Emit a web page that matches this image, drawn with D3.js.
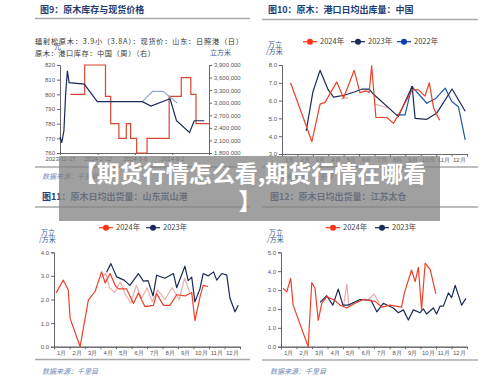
<!DOCTYPE html>
<html>
<head>
<meta charset="utf-8">
<script src="https://cdn.jsdelivr.net/npm/d3@7"></script>
<style>
body { margin: 0; background: #fff; }
svg { display: block; font-family: "Noto Sans CJK SC", "Noto Sans", sans-serif; }
</style>
</head>
<body>
<svg width="500" height="376"></svg>
<script>
const months = ["1月","2月","3月","4月","5月","6月","7月","8月","9月","10月","11月","12月"];

// 图9: price (left axis) and port stock (right axis)
const priceTicks = [760, 770, 780, 790, 800, 810, 820];
const stockTicks = [1800000, 2100000, 2400000, 2700000, 3000000, 3300000, 3600000, 3900000];
const dateTicks = ["2023-11-17", "2024-2-12", "2024-5-8", "2024-8-2"];
const price = [["2023-11-17",771],["2023-11-21",767],["2023-11-26",775],["2023-11-30",800],["2023-12-4",816],
  ["2023-12-8",808],["2024-1-12",807],["2024-2-11",795],["2024-5-25",795],["2024-6-14",792],["2024-7-28",797],
  ["2024-8-12",782],["2024-9-11",774],["2024-9-22",782],["2024-10-15",782]];
const priceGhost = [["2024-5-25",795],["2024-6-18",802],["2024-7-12",802],["2024-8-14",794]];
const stock = [["2023-12-11",3200000],["2024-1-13",3900000],["2024-3-1",3150000],["2024-3-13",2500000],
  ["2024-4-1",2150000],["2024-4-18",2500000],["2024-4-28",2150000],["2024-5-12",1800000],["2024-6-5",2150000],
  ["2024-7-26",3150000],["2024-8-23",3600000],["2024-9-14",3200000],["2024-9-26",2500000],["2024-10-26",2500000]];

// 图10: daily outbound, China ports (week of year, value)
const out24 = [[2.4,7.0],[8.4,3.7],[10.7,5.8],[12.1,5.9],[15.4,7.05],[17.3,6.15],[20.3,7.7],[21.9,6.45],[23.6,6.55],
  [24.5,6.45],[25.2,7.95],[26.4,5.05],[29.5,5.05],[31.3,4.72],[32.6,5.15],[36.6,6.6],[38.4,6.6],[40.2,6.25],
  [41.4,7.0],[42.6,5.6],[44.3,4.9]];
const out23 = [[6.8,4.3],[8.7,6.5],[10.7,7.7],[13.0,6.6],[14.5,6.2],[17.5,6.3],[20.5,6.5],[22.5,6.65],[24.5,6.65],
  [25.5,6.4],[32.7,5.1],[36.6,6.8],[37.4,5.0],[40.7,4.95],[43.5,5.3],[47.8,6.65],[51.5,5.4]];
const out22 = [[32.3,5.2],[34.6,5.2],[36.5,6.8],[40.7,5.85],[43.1,6.1],[45.9,6.7],[47.7,5.95],[49.6,5.65],[51.5,3.8]];
const out24Ghost = [[[26.0,5.8],[29.7,5.6]], [[16.6,6.1],[18.6,6.15]]];

// 图11: Lanshan port
const lan24 = [[0.6,2.28],[2.6,2.82],[4.0,2.4],[4.5,1.2],[7.3,0],[9.6,1.97],[11.5,2.35],[13.3,3.17],[14.3,2.7],
  [15.7,3.1],[17.1,2.6],[18.0,2.45],[20.3,2.45],[22.2,1.83],[23.6,2.27],[25.4,1.7],[27.8,1.75],[28.7,2.25],
  [30.6,1.75],[32.4,1.75],[34.3,2.2],[36.6,2.15],[38.5,2.3],[39.4,1.1],[40.8,2.1],[41.7,2.6],[43.1,2.55]];
const lan23 = [[14.7,3.15],[15.9,3.52],[17.5,2.96],[19.6,2.82],[21.2,2.6],[23.6,3.1],[25.0,2.78],[26.3,2.8],
  [27.7,2.15],[28.7,3.03],[31.0,2.9],[33.4,3.1],[34.3,2.5],[36.6,3.41],[37.5,2.8],[38.5,2.95],[39.4,1.9],
  [40.8,2.45],[41.7,3.1],[43.1,3.0],[44.6,3.17],[45.5,2.82],[46.9,3.1],[48.3,3.03],[49.2,2.05],[50.6,1.48],[51.5,1.76]];
const lanGhost = [[13,2.9],[14.5,3.1],[15.5,2.5],[17,2.3],[18.5,2.75],[20,2.2],[21.5,1.85],[23,2.6],[24.5,2.05],
  [26,2.5],[27.5,1.9],[29,2.4],[31,2.0],[33,2.5],[35,2.0],[36.5,2.9],[38,2.3]];

// 图12: Taicang
const tai24 = [[0.6,3.1],[1.6,2.9],[2.7,3.62],[3.4,2.2],[7.6,0],[8.6,3.4],[9.5,3.1],[10.4,1.4],[11.4,2.3],
  [12.8,2.65],[15.1,2.45],[16.5,2.2],[18.4,2.05],[21.2,2.35],[23.0,2.5],[26.3,2.4],[28.2,2.1],[30.5,2.2],
  [33.7,2.1],[34.5,2.85],[36.5,4.06],[37.5,3.45],[38.4,4.2],[39.3,1.95],[40.3,4.42],[41.7,4.1],[43.3,2.8]];
const tai23 = [[10.9,2.35],[12.8,2.7],[14.5,2.2],[16.0,3.05],[17.3,2.2],[18.8,2.2],[22.1,2.5],[25.2,2.45],
  [26.8,1.85],[28.6,2.3],[31.4,2.05],[32.8,1.8],[34.2,1.95],[35.6,1.41],[37.0,1.95],[38.9,1.8],[39.8,2.0],
  [40.7,1.73],[42.6,2.05],[43.5,1.73],[44.5,2.15],[45.4,2.15],[46.8,2.85],[47.7,2.6],[48.7,3.25],[50.5,2.2],[51.7,2.56]];
const taiGhost = [[[17.5,2.2],[18.4,3.3],[19.0,2.1]], [[24.5,2.5],[26.0,2.8],[27.5,2.3]]];

const RED = "#ea4128", NAVY = "#1b2a58", BLUE = "#1d56a8", GHOST = "#e9a3a3";
const svg = d3.select("svg");
const parse = s => { const p = s.split("-").map(Number); return new Date(p[0], p[1] - 1, p[2]); };

function rule(x1, x2, y) {
  svg.append("line").attr("x1", x1).attr("x2", x2).attr("y1", y).attr("y2", y)
    .attr("stroke", "#a8a8a8").attr("stroke-width", 1.3);
}
function title(t, x, y) {
  svg.append("text").attr("x", x).attr("y", y).attr("font-size", 9).attr("font-weight", "bold")
    .attr("fill", "#1f3c72").text(t);
}
function source(x, y) {
  svg.append("text").attr("x", x).attr("y", y).attr("font-size", 7).attr("font-style", "italic")
    .attr("fill", "#6f8ab8").text("数据来源：千里目");
}
function unit(x, y) {
  svg.append("text").attr("x", x).attr("y", y).attr("font-size", 7).attr("fill", "#3d5a8a").text("万立");
  svg.append("text").attr("x", x - 2).attr("y", y + 7).attr("font-size", 7).attr("fill", "#3d5a8a").text("/方米");
}
function styleAxis(g) {
  g.selectAll("text").attr("font-size", 6).attr("fill", "#555");
  g.selectAll("path, line").attr("stroke", "#666");
}
function legend(items, y) {
  items.forEach(it => {
    svg.append("line").attr("x1", it.x - 7).attr("x2", it.x + 7).attr("y1", y).attr("y2", y)
      .attr("stroke", it.color).attr("stroke-width", 1.2);
    svg.append("circle").attr("cx", it.x).attr("cy", y).attr("r", 3).attr("fill", it.color);
    svg.append("text").attr("x", it.x + 10).attr("y", y + 2.7).attr("font-size", 7.5).attr("fill", "#444").text(it.label);
  });
}

function weekPanel(o) {
  const x = d3.scaleLinear().domain([0, 52]).range([o.x0, o.x1]);
  const xb = d3.scaleBand().domain(months).range([o.x0, o.x1]);
  const y = d3.scaleLinear().domain(o.yDomain).range([o.yb, o.yt]);
  svg.append("g").attr("transform", `translate(0,${o.yb})`)
    .call(d3.axisBottom(xb).tickSize(0).tickPadding(4)).call(styleAxis);
  svg.append("g").attr("transform", `translate(0,${o.yb})`)
    .call(d3.axisBottom(x).tickValues(d3.range(13).map(i => i * 52 / 12)).tickSize(2.5).tickFormat(""))
    .call(styleAxis);
  svg.append("g").attr("transform", `translate(${o.x0},0)`)
    .call(d3.axisLeft(y).tickValues(d3.range(o.yDomain[0], o.yDomain[1] + 1)).tickSize(3).tickPadding(2))
    .call(styleAxis);
  const line = d3.line().x(d => x(d[0])).y(d => y(d[1]));
  o.series.forEach(s => {
    svg.append("path").datum(s.data).attr("fill", "none").attr("stroke", s.color)
      .attr("stroke-width", s.w || 1.2).attr("opacity", s.op || 1).attr("stroke-linejoin", "round").attr("d", line);
  });
}

// ---------- 图9 ----------
title("图9：原木库存与现货价格", 40, 13);
rule(35, 250, 18.5);
svg.append("text").attr("x", 35).attr("y", 43.5).attr("font-size", 7.2).attr("fill", "#333")
  .attr("textLength", 208).attr("lengthAdjust", "spacing")
  .text("辐射松原木：3.9小（3.8A）：现货价：山东：日照港（日）");
svg.append("text").attr("x", 35).attr("y", 55.5).attr("font-size", 7.2).attr("fill", "#333")
  .attr("textLength", 120).attr("lengthAdjust", "spacing")
  .text("原木：港口库存：中国（周）（右）");
svg.append("text").attr("x", 54).attr("y", 48.5).attr("font-size", 7).attr("fill", "#3d5a8a").text("元");
svg.append("text").attr("x", 210).attr("y", 55).attr("font-size", 7).attr("fill", "#3d5a8a").text("立方米");

const xT = d3.scaleTime().domain([parse("2023-11-17"), parse("2024-10-26")]).range([60, 209]);
const yP = d3.scaleLinear().domain([760, 820]).range([153, 65]);
const yS = d3.scaleLinear().domain([1800000, 3900000]).range([153, 65]);
svg.append("g").attr("transform", "translate(60,0)")
  .call(d3.axisLeft(yP).tickValues(priceTicks).tickSize(3).tickPadding(2)).call(styleAxis);
svg.append("g").attr("transform", "translate(209,0)")
  .call(d3.axisRight(yS).tickValues(stockTicks).tickSize(3).tickPadding(2).tickFormat(d3.format(","))).call(styleAxis);
svg.append("g").attr("transform", "translate(0,153)")
  .call(d3.axisBottom(xT).tickValues(dateTicks.map(parse)).tickSize(2).tickPadding(2)
    .tickFormat((d, i) => dateTicks[i])).call(styleAxis);

const stockLine = d3.line().curve(d3.curveStepAfter).x(d => xT(parse(d[0]))).y(d => yS(d[1]));
const priceLine = d3.line().x(d => xT(parse(d[0]))).y(d => yP(d[1]));
svg.append("path").datum(stock).attr("fill", "none").attr("stroke", "#d9462f").attr("stroke-width", 1.2).attr("d", stockLine);
svg.append("path").datum(priceGhost).attr("fill", "none").attr("stroke", "#8ea5c6").attr("stroke-width", 1.2).attr("d", priceLine);
svg.append("path").datum(price).attr("fill", "none").attr("stroke", NAVY).attr("stroke-width", 1.2).attr("d", priceLine);
rule(35, 250, 167);
source(42, 179);

// ---------- 图10 ----------
title("图10：原木：港口日均出库量：中国", 268, 13);
rule(262, 478, 19.5);
legend([{x: 310, color: "#ff3311", label: "2024年"}, {x: 358, color: NAVY, label: "2023年"},
  {x: 404, color: "#0a3fb0", label: "2022年"}], 41.7);
unit(268, 47);
weekPanel({x0: 282, x1: 467, yb: 154, yt: 65, yDomain: [3, 8], series: [
  ...out24Ghost.map(d => ({data: d, color: GHOST, op: 0.9})),
  {data: out22, color: BLUE},
  {data: out23, color: NAVY},
  {data: out24, color: RED}
]});
rule(262, 478, 167);
source(277, 179);

// ---------- 图11 ----------
title("图11：原木日均出货量：山东岚山港", 42, 200);
rule(35, 250, 207);
legend([{x: 106, color: "#ff3311", label: "2024年"}, {x: 153, color: NAVY, label: "2023年"}], 227.7);
unit(41, 235);
weekPanel({x0: 54, x1: 240, yb: 346.7, yt: 252.3, yDomain: [0, 4], series: [
  {data: lanGhost, color: GHOST, op: 0.9},
  {data: lan23, color: NAVY},
  {data: lan24, color: RED}
]});
rule(35, 250, 359.5);
source(42, 374);

// ---------- 图12 ----------
title("图12：原木日均出货量：江苏太仓", 270, 200);
rule(262, 478, 207);
legend([{x: 333, color: "#ff3311", label: "2024年"}, {x: 382, color: NAVY, label: "2023年"}], 227.7);
unit(269, 235);
weekPanel({x0: 281, x1: 467, yb: 346.7, yt: 252.3, yDomain: [0, 5], series: [
  ...taiGhost.map(d => ({data: d, color: GHOST, op: 0.9})),
  {data: tai23, color: NAVY},
  {data: tai24, color: RED}
]});
rule(262, 478, 360);
source(270, 374);

// ---------- banner ----------
svg.append("rect").attr("x", 59).attr("y", 156).attr("width", 381).attr("height", 65)
  .attr("fill", "#808080").attr("opacity", 0.75);
svg.append("text").attr("x", 250).attr("y", 182).attr("text-anchor", "middle").attr("font-size", 23)
  .attr("font-weight", "bold").attr("fill", "#fff").text("【期货行情怎么看,期货行情在哪看");
svg.append("text").attr("x", 250).attr("y", 210).attr("text-anchor", "middle").attr("font-size", 23)
  .attr("font-weight", "bold").attr("fill", "#fff").text("】");
</script>
</body>
</html>
